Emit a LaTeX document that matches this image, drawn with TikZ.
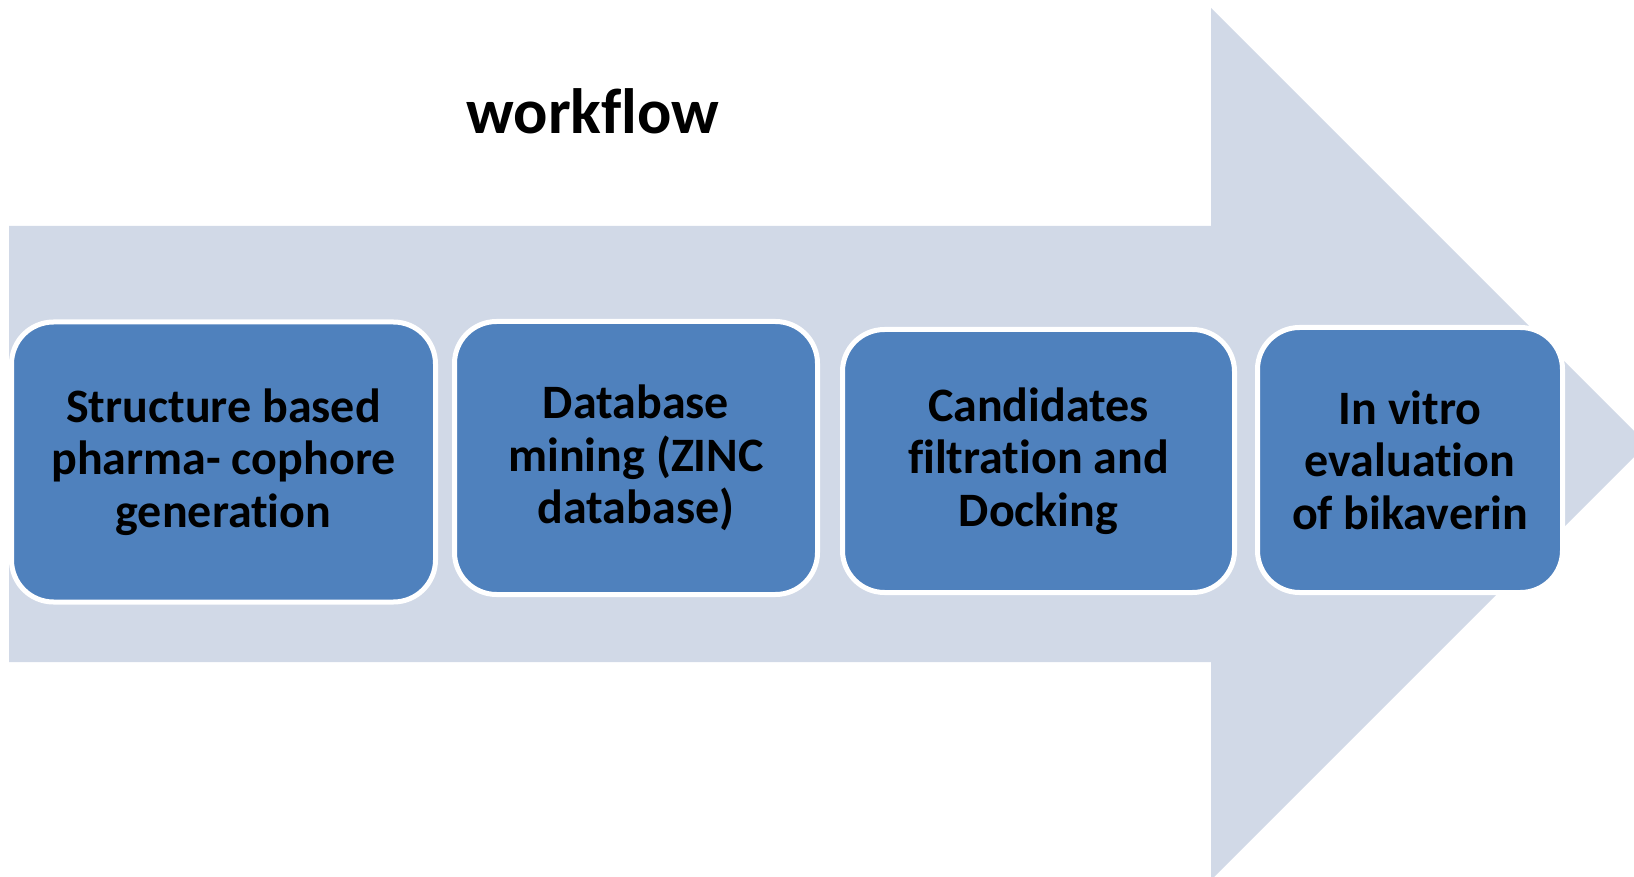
\documentclass[tikz,border=0pt]{standalone}
\usepackage{fontspec}
\setmainfont{Carlito}[Ligatures={NoCommon}]
\definecolor{arrowfill}{HTML}{D1D9E7}
\definecolor{boxfill}{HTML}{4F81BD}
\begin{document}
\begin{tikzpicture}[x=1pt,y=-1pt,
  stepbox/.style={draw=white, line width=5pt, fill=boxfill, rounded corners=42pt,
    align=center, text=black, inner sep=0pt,
    font=\fontsize{48}{52.6}\selectfont\bfseries}]
\useasboundingbox (0,0) rectangle (1634,877);
\clip (0,0) rectangle (1634,877);
\fill[arrowfill] (9,226) -- (1211,226) -- (1211,8) -- (1647,444) -- (1211,880) -- (1211,662) -- (9,662) -- cycle;
\node[anchor=base, font=\fontsize{64}{76}\selectfont\bfseries] (title) at (593,134) {workflow};
\node[stepbox, minimum width=424pt, minimum height=280pt] (b1) at (223.5,462) {Structure based\\pharma- cophore\\generation};
\node[stepbox, minimum width=363pt, minimum height=273pt] (b2) at (636,458) {Database\\mining (ZINC\\database)};
\node[stepbox, minimum width=392pt, minimum height=263pt] (b3) at (1038.5,461) {Candidates\\filtration and\\Docking};
\node[stepbox, minimum width=305pt, minimum height=265pt] (b4) at (1410,460) {In vitro\\evaluation\\of bikaverin};
\end{tikzpicture}
\end{document}
